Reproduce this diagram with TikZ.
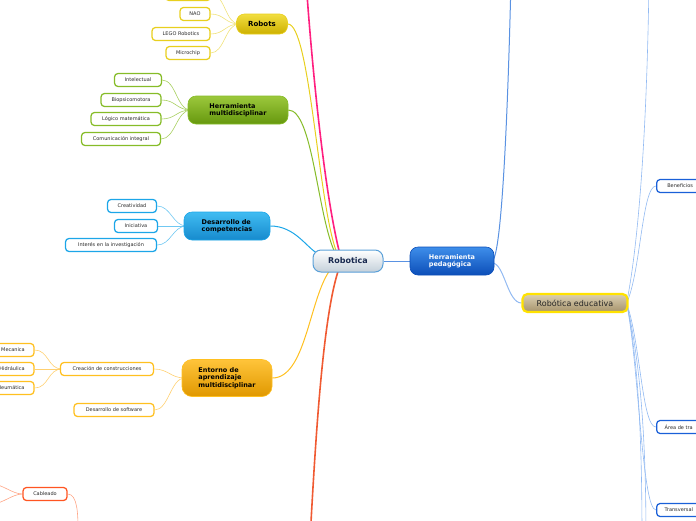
\documentclass[tikz,border=0pt]{standalone}
\usepackage{fontspec}
\setmainfont{DejaVu Sans}
\usetikzlibrary{calc,backgrounds}
\definecolor{ylwB}{HTML}{E8CF1E}
\definecolor{ylwT}{HTML}{F2DE40}
\definecolor{ylwD}{HTML}{CDB000}
\definecolor{ylwL}{HTML}{F0E27A}
\definecolor{grnT}{HTML}{9CC83C}
\definecolor{grnD}{HTML}{66980E}
\definecolor{grnB}{HTML}{86BC28}
\definecolor{grnL}{HTML}{A8D060}
\definecolor{cyaT}{HTML}{40BCF2}
\definecolor{cyaD}{HTML}{168ACD}
\definecolor{cyaB}{HTML}{1CA6E8}
\definecolor{cyaL}{HTML}{70C8F2}
\definecolor{orgT}{HTML}{FFC43A}
\definecolor{orgD}{HTML}{E09800}
\definecolor{orgB}{HTML}{FFC020}
\definecolor{orgL}{HTML}{FFD070}
\definecolor{redB}{HTML}{FF5522}
\definecolor{redL}{HTML}{FFA585}
\definecolor{redC}{HTML}{F05A32}
\definecolor{pinkC}{HTML}{FF1F7F}
\definecolor{bluC}{HTML}{5A92E2}
\definecolor{bluL}{HTML}{92BAF2}
\definecolor{bluB}{HTML}{1A60D8}
\definecolor{hpT}{HTML}{3E8EEA}
\definecolor{hpD}{HTML}{0C4EB8}
\definecolor{robB}{HTML}{5AA0D8}
\definecolor{robD}{HTML}{C4D0DA}
\definecolor{navy}{HTML}{17284E}
\definecolor{tanT}{HTML}{DCD0B2}
\definecolor{tanD}{HTML}{A6936C}
\definecolor{reB}{HTML}{FFE200}
\definecolor{leafT}{HTML}{2A2A2A}
\begin{document}
\begin{tikzpicture}[x=1pt,y=-1pt,
  leaf/.style={draw, line width=1.25pt, fill=white, rounded corners=3.5pt,
    font=\fontsize{5}{6}\selectfont, text=leafT, minimum height=13pt, inner sep=1pt},
  mainn/.style={rounded corners=8pt, font=\fontsize{6.5}{7.2}\selectfont\bfseries,
    align=left, inner sep=2pt, line width=0.6pt},
  conn/.style={line width=1pt},
  thin/.style={line width=0.6pt}]
\useasboundingbox (0,0) rectangle (696,520);

% central nodes
\node[mainn, minimum width=70pt, minimum height=22pt, top color=white, bottom color=robD,
  draw=robB, line width=1pt, font=\fontsize{8}{9}\selectfont\bfseries, text=navy] (rob) at (348,261) {Robotica};
\node[mainn, minimum width=84pt, minimum height=28pt, top color=hpT, bottom color=hpD,
  draw=hpD, text=white] (hp) at (452,261) {Herramienta\\pedagógica};
\node[mainn, minimum width=105pt, minimum height=18pt, rounded corners=5pt, top color=tanT, bottom color=tanD,
  draw=reB, line width=2.2pt, font=\fontsize{8}{9}\selectfont, text=black!85] (re) at (575,303) {Robótica educativa};

% branch nodes
\node[mainn, minimum width=51pt, minimum height=20pt, top color=ylwT, bottom color=ylwD, draw=ylwB,
  font=\fontsize{7}{8}\selectfont\bfseries] (robots) at (262,24) {Robots};
\node[mainn, minimum width=100pt, minimum height=28pt, top color=grnT, bottom color=grnD, draw=grnB] (hm) at (238,110) {Herramienta\\multidisciplinar};
\node[mainn, minimum width=86pt, minimum height=28pt, top color=cyaT, bottom color=cyaD, draw=cyaB] (dc) at (227,226) {Desarrollo de\\competencias};
\node[mainn, minimum width=90pt, minimum height=37pt, rounded corners=10pt, top color=orgT, bottom color=orgD, draw=orgB] (ea) at (227,378) {Entorno de\\aprendizaje\\multidisciplinar};

% leaves
\node[leaf, draw=ylwB, minimum width=45pt] (r0) at (188,-6) {};
\node[leaf, draw=ylwB, minimum width=30pt] (nao) at (195,14) {NAO};
\node[leaf, draw=ylwB, minimum width=58pt] (lego) at (181,34) {LEGO Robotics};
\node[leaf, draw=ylwB, minimum width=44pt] (micro) at (188,53) {Microchip};

\node[leaf, draw=grnB, minimum width=47pt] (int) at (138,80) {Intelectual};
\node[leaf, draw=grnB, minimum width=60pt] (bio) at (131,100) {Biopsicomotora};
\node[leaf, draw=grnB, minimum width=70pt] (log) at (126,119) {Lógico matemática};
\node[leaf, draw=grnB, minimum width=79pt] (com) at (121,139) {Comunicación integral};

\node[leaf, draw=cyaB, minimum width=49pt] (cre) at (132,206) {Creatividad};
\node[leaf, draw=cyaB, minimum width=43pt] (ini) at (136,226) {Iniciativa};
\node[leaf, draw=cyaB, minimum width=91pt] (inv) at (111,245) {Interés en la investigación};

\node[leaf, draw=orgB, minimum width=93pt] (cc) at (107,369) {Creación de construcciones};
\node[leaf, draw=orgB, minimum width=80pt] (ds) at (114,410) {Desarrollo de software};
\node[leaf, draw=orgB, minimum width=42pt] (mec) at (13,350) {Mecanica};
\node[leaf, draw=orgB, minimum width=44pt] (hid) at (12,369) {Hidráulica};
\node[leaf, draw=orgB, minimum width=46pt] (neu) at (11,388) {Neumática};

\node[leaf, draw=redB, minimum width=44pt] (cab) at (45,494) {Cableado};

\node[leaf, draw=bluB, minimum width=47pt, anchor=west] (ben) at (656,186) {Beneficios};
\node[leaf, draw=bluB, anchor=west, text width=56pt, align=left, inner xsep=8pt] (area) at (656,427) {Área de tra};
\node[leaf, draw=bluB, anchor=west, text width=56pt, align=left, inner xsep=8pt] (tra) at (656,510) {Transversal};

% free ends
\coordinate (topP) at (306,-20);
\coordinate (botR) at (310,540);
\coordinate (topB) at (511,-20);
\coordinate (topR) at (649,-20);
\coordinate (botR1) at (642,540);
\coordinate (botR2) at (646,540);
\coordinate (cabP) at (78,530);
\coordinate (cabL1) at (-8,484);
\coordinate (cabL2) at (-8,504);

\begin{scope}[on background layer]
\clip (0,0) rectangle (696,520);
% from Robotica
\draw[pinkC, line width=1.6pt] ($(rob.north)+(-9,1)$) .. controls +(-17,-70) and +(4,60) .. (topP);
\draw[ylwB, conn] ($(rob.north)+(-12,1)$) .. controls +(-18,-50) and +(22,0) .. (robots.east);
\draw[grnB, conn] ($(rob.north)+(-14,1)$) .. controls +(-17,-40) and +(24,0) .. (hm.east);
\draw[cyaB, conn] (dc.east) .. controls +(25,0) and +(-12,-6) .. ($(rob.west)+(6,-7)$);
\draw[orgB, conn] ($(rob.south)+(-19,-1)$) .. controls +(-20,30) and +(33,0) .. (ea.east);
\draw[redC, line width=1.6pt] ($(rob.south)+(-10,-1)$) .. controls +(-16,50) and +(5,-90) .. (botR);
\draw[bluC, line width=1pt] (rob.east) -- (hp.west);
% from Herramienta pedagogica
\draw[bluC, conn] ($(hp.east)+(-2,0)$) .. controls +(8,-5) and +(-4,170) .. (topB);
\draw[bluL, conn] ($(hp.east)+(-2,2)$) .. controls +(12,0) and +(-14,0) .. (re.west);
% from Robotica educativa
\draw[bluL, thin] ($(re.east)+(-2,0)$) .. controls +(14,-30) and +(-14,0) .. (ben.west);
\draw[bluL, thin] ($(re.east)+(-2,0)$) .. controls +(12,-60) and +(-2,150) .. (topR);
\draw[bluL, thin] ($(re.east)+(-2,0)$) .. controls +(14,40) and +(-14,0) .. (area.west);
\draw[bluL, thin] ($(re.east)+(-2,0)$) .. controls +(12,60) and +(-14,0) .. (tra.west);
\draw[bluL, thin] ($(re.east)+(-2,0)$) .. controls +(12,60) and +(0,-100) .. (botR1);
\draw[bluL, thin] ($(re.east)+(-2,0)$) .. controls +(14,60) and +(0,-100) .. (botR2);
% leaves
\foreach \n in {r0,nao,lego,micro}
  \draw[ylwL, thin] ($(robots.west)+(3,0)$) .. controls +(-14,0) and +(14,0) .. (\n.east);
\foreach \n in {int,bio,log,com}
  \draw[grnL, thin] ($(hm.west)+(3,0)$) .. controls +(-14,0) and +(14,0) .. (\n.east);
\foreach \n in {cre,ini,inv}
  \draw[cyaL, thin] ($(dc.west)+(3,0)$) .. controls +(-14,0) and +(14,0) .. (\n.east);
\foreach \n in {cc,ds}
  \draw[orgL, thin] ($(ea.west)+(3,0)$) .. controls +(-14,0) and +(14,0) .. (\n.east);
\foreach \n in {mec,hid,neu}
  \draw[orgL, thin] ($(cc.west)+(2,0)$) .. controls +(-14,0) and +(14,0) .. (\n.east);
\draw[redL, thin] (cab.east) .. controls +(10,0) and +(0,-15) .. (cabP);
\draw[redL, thin] (cab.west) .. controls +(-10,0) and +(10,0) .. (cabL1);
\draw[redL, thin] (cab.west) .. controls +(-10,0) and +(10,0) .. (cabL2);
\end{scope}
\end{tikzpicture}
\end{document}
